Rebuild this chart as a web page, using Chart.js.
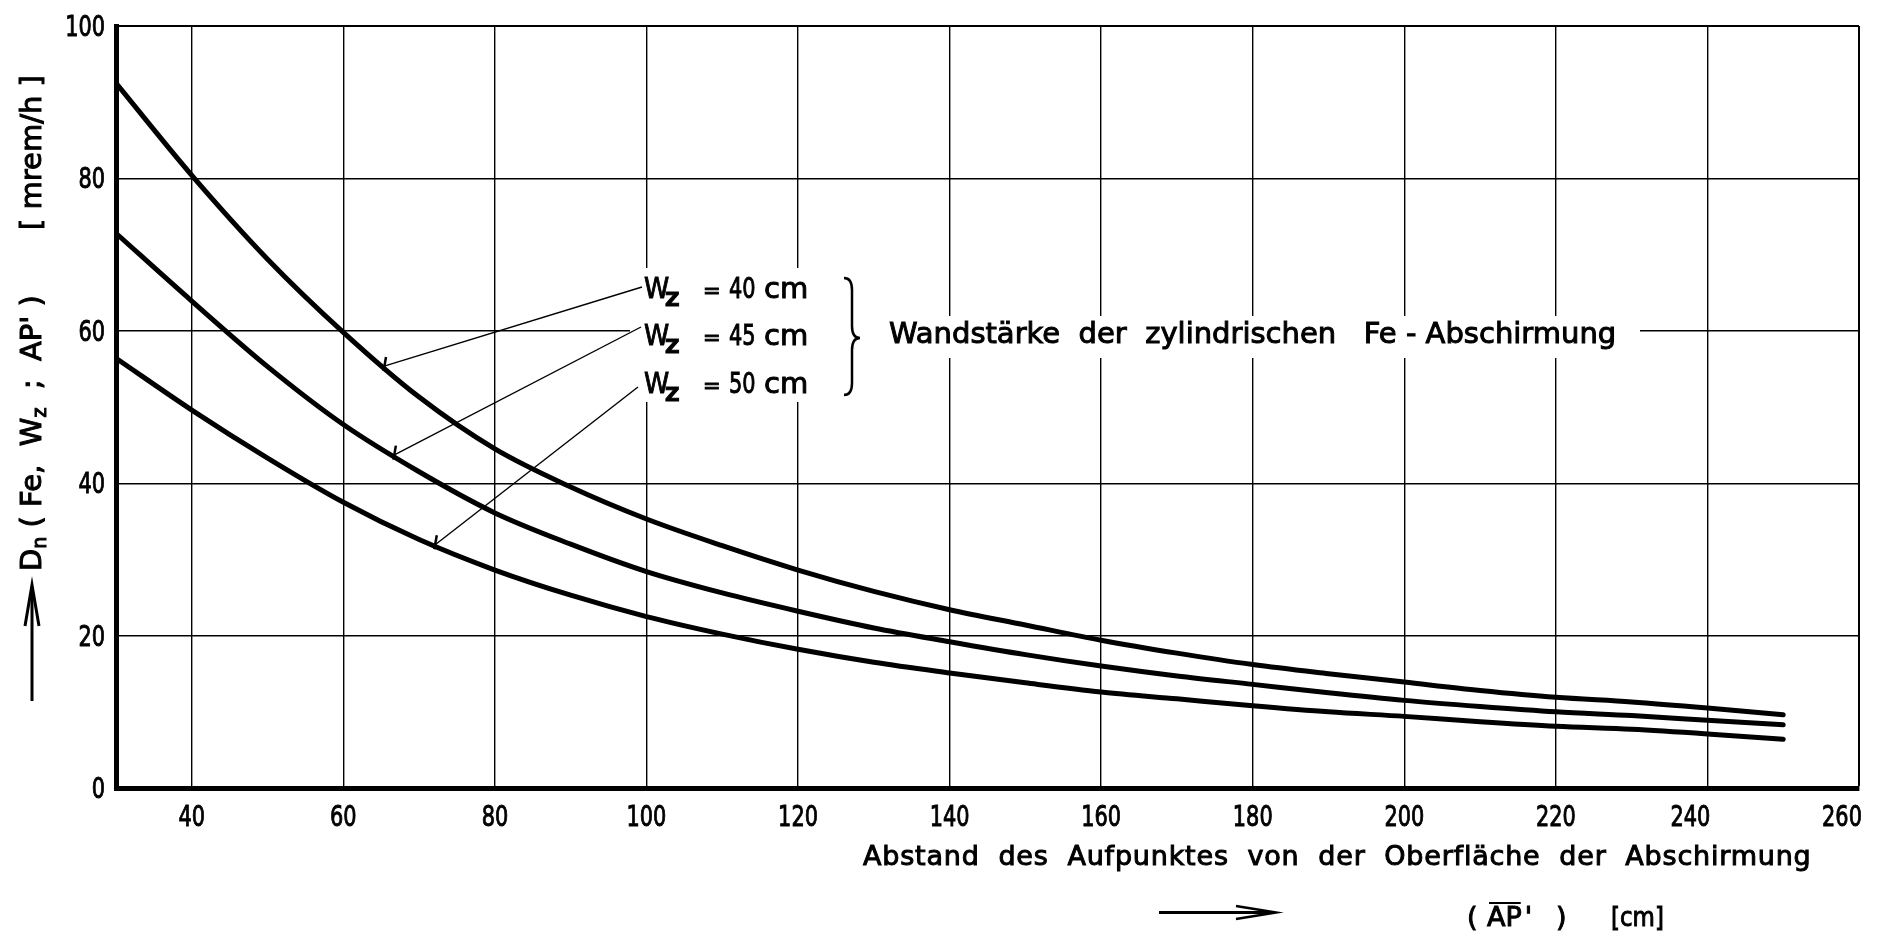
<!DOCTYPE html>
<html>
<head>
<meta charset="utf-8">
<script src="https://cdn.jsdelivr.net/npm/chart.js@4.4.1/dist/chart.umd.min.js"></script>
<style>
  html, body { margin: 0; padding: 0; background: #fff; overflow: hidden; }
  canvas { display: block; }
</style>
</head>
<body>
<canvas id="dose" width="1903" height="937"></canvas>
<script>
// Distance of the reference point from the shield surface, AP' [cm]
const distances = [30, 40, 50, 60, 70, 80, 90, 100, 110, 120, 130, 140, 150, 160, 170, 180, 190, 200, 210, 220, 230, 240, 250];

// Neutron dose rate D_n [mrem/h] for three wall thicknesses W_z of the cylindrical Fe shield
const doseWz40 = [92.5, 80.4, 69.4, 59.8, 51.3, 44.5, 39.5, 35.3, 31.8, 28.6, 25.8, 23.4, 21.4, 19.4, 17.7, 16.2, 15.0, 13.9, 12.8, 11.9, 11.3, 10.5, 9.6];
const doseWz45 = [72.8, 63.9, 55.3, 47.7, 41.5, 36.1, 32.0, 28.4, 25.6, 23.2, 21.0, 19.2, 17.5, 16.0, 14.7, 13.6, 12.5, 11.5, 10.7, 10.0, 9.5, 8.9, 8.3];
const doseWz50 = [56.4, 49.6, 43.3, 37.5, 32.6, 28.6, 25.3, 22.5, 20.2, 18.2, 16.5, 15.1, 13.8, 12.6, 11.7, 10.8, 10.0, 9.4, 8.7, 8.1, 7.7, 7.1, 6.4];

// Wall thickness labels, one per curve
const wallThickness = ['40', '45', '50'];

// Axis tick labels
const xTickValues = [40, 60, 80, 100, 120, 140, 160, 180, 200, 220, 240, 260];
const yTickValues = [0, 20, 40, 60, 80, 100];

const TEXT = '"DejaVu Sans", sans-serif';

const toPoints = (ys) => distances.map((x, i) => ({ x, y: ys[i] }));

// Draw a piece of lettering; sx narrows it horizontally (stencil-style digits)
function ink(ctx, text, x, y, font, sx = 1, align = 'left') {
  ctx.save();
  ctx.font = font;
  ctx.textAlign = align;
  ctx.textBaseline = 'alphabetic';
  ctx.translate(x, y);
  ctx.scale(sx, 1);
  ctx.fillText(text, 0, 0);
  ctx.lineWidth = 1;
  ctx.strokeText(text, 0, 0);
  const w = ctx.measureText(text).width * sx;
  ctx.restore();
  return w;
}

// Pixel position on a drawn curve at a given distance
function onCurve(chart, dsIndex, xVal) {
  const pts = chart.data.datasets[dsIndex].data;
  const xs = chart.scales.x, ys = chart.scales.y;
  for (let i = 0; i < pts.length - 1; i++) {
    const a = pts[i], b = pts[i + 1];
    if (xVal >= a.x && xVal <= b.x) {
      const t = (xVal - a.x) / (b.x - a.x);
      return { x: xs.getPixelForValue(xVal), y: ys.getPixelForValue(a.y + t * (b.y - a.y)) };
    }
  }
  return null;
}

const sheetText = {
  id: 'sheetText',
  afterDraw(chart) {
    const ctx = chart.ctx;
    const xs = chart.scales.x, ys = chart.scales.y;
    ctx.save();

    // Paper cut-outs behind the curve labels and the brace text
    ctx.fillStyle = '#fff';
    ctx.fillRect(630, 268, 250, 134);
    ctx.fillRect(880, 316, 760, 42);

    ctx.fillStyle = '#000';
    ctx.strokeStyle = '#000';

    // Tick labels, placed by the chart's own scales
    const digitFont = `29px ${TEXT}`;
    xs.ticks.forEach(t => {
      const nudge = t.value >= 240 ? -17 : 0;
      ink(ctx, String(t.value), xs.getPixelForValue(t.value) + nudge, 826, digitFont, 0.72, 'center');
    });
    ys.ticks.forEach(t => {
      ink(ctx, String(t.value), 105, ys.getPixelForValue(t.value) + 10, digitFont, 0.72, 'right');
    });

    // Curve labels W_Z = .. cm
    const rowBase = [298, 345, 393];
    wallThickness.forEach((w, i) => {
      const b = rowBase[i];
      ink(ctx, 'W', 644, b, `29px ${TEXT}`, 0.88);
      ink(ctx, 'Z', 665, b + 8, `bold 20px ${TEXT}`, 1);
      ink(ctx, '=', 703, b, `21px ${TEXT}`, 1);
      ink(ctx, w, 729, b, digitFont, 0.72);
      ink(ctx, 'cm', 764, b, `29px ${TEXT}`, 1);
    });

    // Leader lines from each label to its curve
    const leaderStart = [[642, 287], [641, 327], [638, 387]];
    const leaderAt = [65.5, 66.8, 72.2];
    leaderAt.forEach((xv, i) => {
      const p = onCurve(chart, i, xv);
      if (!p) return;
      ctx.lineWidth = 1.4;
      ctx.beginPath();
      ctx.moveTo(leaderStart[i][0], leaderStart[i][1]);
      ctx.lineTo(p.x, p.y - 2);
      ctx.stroke();
      ctx.lineWidth = 2.5;
      ctx.beginPath();
      ctx.moveTo(p.x - 1.5, p.y + 3);
      ctx.lineTo(p.x + 1, p.y - 11);
      ctx.stroke();
    });

    // Brace
    ctx.lineWidth = 2.5;
    ctx.beginPath();
    ctx.moveTo(844, 278);
    ctx.quadraticCurveTo(852, 278, 852, 290);
    ctx.lineTo(852, 326);
    ctx.quadraticCurveTo(852, 338, 860, 338);
    ctx.quadraticCurveTo(852, 338, 852, 350);
    ctx.lineTo(852, 383);
    ctx.quadraticCurveTo(852, 395, 844, 395);
    ctx.stroke();

    ink(ctx, 'Wandstärke  der  zylindrischen   Fe - Abschirmung', 889, 343, `29px ${TEXT}`);

    // Y axis title (rotated)
    ctx.save();
    ctx.translate(41, 571);
    ctx.rotate(-Math.PI / 2);
    let pos = 0;
    pos += ink(ctx, 'D', pos, 0, `29px ${TEXT}`);
    pos += ink(ctx, 'n', pos, 5, `19px ${TEXT}`);
    pos += ink(ctx, ' ( Fe,  W', pos, 0, `29px ${TEXT}`);
    pos += ink(ctx, 'z', pos, 5, `19px ${TEXT}`);
    ink(ctx, '  ;  AP\' )', pos, 0, `29px ${TEXT}`);
    ink(ctx, '[ mrem/h ]', 341, 0, `29px ${TEXT}`);
    ctx.restore();

    // Y axis arrow
    ctx.lineWidth = 3;
    ctx.beginPath();
    ctx.moveTo(32, 701);
    ctx.lineTo(32, 588);
    ctx.stroke();
    ctx.beginPath();
    ctx.moveTo(25, 626);
    ctx.lineTo(32, 585);
    ctx.lineTo(39, 626);
    ctx.stroke();

    // X axis title
    ctx.letterSpacing = '0.8px';
    ink(ctx, 'Abstand  des  Aufpunktes  von  der  Oberfläche  der  Abschirmung', 863, 865, `27px ${TEXT}`);
    ctx.letterSpacing = '0px';

    // X axis arrow
    ctx.lineWidth = 3;
    ctx.beginPath();
    ctx.moveTo(1159, 912.5);
    ctx.lineTo(1272, 912.5);
    ctx.stroke();
    ctx.lineWidth = 2.5;
    ctx.beginPath();
    ctx.moveTo(1236, 906);
    ctx.lineTo(1276, 912.5);
    ctx.lineTo(1236, 919);
    ctx.stroke();

    // ( AP' )  [cm]
    ink(ctx, '(', 1467, 926, `27px ${TEXT}`);
    const apW = ink(ctx, 'AP', 1487, 926, `27px ${TEXT}`);
    ink(ctx, '\'', 1487 + apW + 3, 926, `27px ${TEXT}`);
    ink(ctx, ')', 1556, 926, `27px ${TEXT}`);
    ink(ctx, '[cm]', 1611, 926, `27px ${TEXT}`, 0.85);
    ctx.lineWidth = 2;
    ctx.beginPath();
    ctx.moveTo(1489, 903);
    ctx.lineTo(1487 + apW - 1, 903);
    ctx.stroke();

    ctx.restore();
  }
};

const curveStyle = {
  borderColor: '#000',
  borderWidth: 5,
  pointRadius: 0,
  fill: false,
  cubicInterpolationMode: 'monotone',
  borderCapStyle: 'round',
  borderJoinStyle: 'round'
};

new Chart(document.getElementById('dose'), {
  type: 'line',
  data: {
    datasets: [
      { label: 'Wz = 40 cm', data: toPoints(doseWz40), ...curveStyle },
      { label: 'Wz = 45 cm', data: toPoints(doseWz45), ...curveStyle },
      { label: 'Wz = 50 cm', data: toPoints(doseWz50), ...curveStyle }
    ]
  },
  options: {
    responsive: false,
    animation: false,
    devicePixelRatio: 1,
    layout: { padding: { top: 26, right: 44, left: 0, bottom: 0 } },
    plugins: { legend: { display: false }, tooltip: { enabled: false } },
    scales: {
      x: {
        type: 'linear',
        min: 30,
        max: 260,
        afterBuildTicks: (s) => { s.ticks = xTickValues.map(v => ({ value: v })); },
        afterFit: (s) => { s.height = 149; },
        grid: {
          color: '#000',
          lineWidth: (c) => (c.tick && c.tick.value === 260 ? 2 : 1.4),
          drawTicks: false
        },
        border: { display: true, color: '#000', width: 5 },
        ticks: { display: false }
      },
      y: {
        type: 'linear',
        min: 0,
        max: 100,
        afterBuildTicks: (s) => { s.ticks = yTickValues.map(v => ({ value: v })); },
        afterFit: (s) => { s.width = 116; },
        grid: {
          color: '#000',
          lineWidth: (c) => (c.tick && c.tick.value === 100 ? 2 : 1.4),
          drawTicks: false
        },
        border: { display: true, color: '#000', width: 5 },
        ticks: { display: false }
      }
    }
  },
  plugins: [sheetText]
});
</script>
</body>
</html>
